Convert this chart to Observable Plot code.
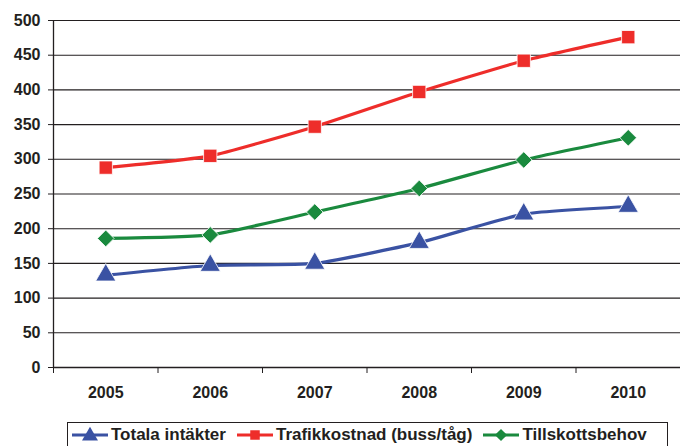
<!DOCTYPE html>
<html><head><meta charset="utf-8">
<script src="https://cdn.jsdelivr.net/npm/d3@7"></script>
<script src="https://cdn.jsdelivr.net/npm/@observablehq/plot@0.6"></script>
<style>
body{margin:0;background:#fff;font-family:"Liberation Sans",Arial,sans-serif;}
#chart{width:680px;height:446px;position:relative;overflow:hidden;}
.legend{position:absolute;left:67px;top:422px;width:601px;height:30px;border:1px solid #231f20;box-sizing:border-box;display:flex;align-items:flex-start;padding-left:4px;padding-top:2px;font-weight:bold;font-size:17px;color:#231f20;white-space:nowrap;}
.legend .it{display:flex;align-items:center;margin-right:11px;}
.legend svg{margin-right:3px;}
</style></head>
<body><div id="chart"></div>
<script>
const years = [2005, 2006, 2007, 2008, 2009, 2010];
const seriesNames = ["Totala intäkter", "Trafikkostnad (buss/tåg)", "Tillskottsbehov"];
const totalaIntakter = [133, 147, 150, 180, 221, 232];
const trafikkostnad = [288, 305, 347, 397, 442, 476];
const tillskottsbehov = [186, 191, 224, 258, 299, 331];
const colors = ["#3a52a3", "#ee2d2a", "#1a8a3e"];
const symbols = ["triangle", "square", "diamond2"];
const yTicks = [0, 50, 100, 150, 200, 250, 300, 350, 400, 450, 500];

const valuesList = [totalaIntakter, trafikkostnad, tillskottsbehov];
const data = [];
seriesNames.forEach((s, i) => years.forEach((y, j) => data.push({series: s, year: y, value: valuesList[i][j]})));
const bounds = years.map(y => y - 0.5).concat([years[years.length - 1] + 0.5]);

const plot = Plot.plot({
  width: 680, height: 422,
  marginTop: 20, marginBottom: 55, marginLeft: 53, marginRight: 0,
  x: {type: "linear", domain: [bounds[0], bounds[bounds.length - 1]]},
  y: {domain: [0, 500]},
  color: {domain: seriesNames, range: colors},
  symbol: {domain: seriesNames, range: symbols},
  style: {fontFamily: "Liberation Sans, Arial, sans-serif", fontWeight: "bold", fontSize: "16px", color: "#231f20"},
  marks: [
    Plot.gridY(yTicks, {stroke: "#231f20", strokeOpacity: 1, strokeWidth: 1.1}),
    Plot.axisY({ticks: yTicks, tickSize: 5, tickPadding: 8, label: null, fontSize: 16, fontWeight: "bold"}),
    Plot.axisX({ticks: bounds, tickSize: 6, tickFormat: () => "", label: null}),
    Plot.axisX({ticks: years, tickSize: 0, tickPadding: 19, tickFormat: d => String(d), label: null, fontSize: 16, fontWeight: "bold"}),
    Plot.ruleX([bounds[0]], {stroke: "#231f20", strokeWidth: 1.3}),
    Plot.ruleY([0], {stroke: "#231f20", strokeWidth: 1.3}),
    Plot.line(data, {x: "year", y: "value", z: "series", stroke: "series", strokeWidth: 3.2, curve: "cardinal", tension: 0.5}),
    Plot.dot(data, {x: "year", y: "value", symbol: "series", fill: "series", stroke: "#fff", strokeWidth: 0.8, r: 7.5})
  ]
});
const chart = document.getElementById("chart");
chart.appendChild(plot);

const legend = document.createElement("div");
legend.className = "legend";
const symPath = {triangle: d3.symbol(d3.symbolTriangle, 110)(), square: d3.symbol(d3.symbolSquare, 90)(), diamond2: d3.symbol(d3.symbolDiamond2, 95)()};
seriesNames.forEach((s, i) => {
  const it = document.createElement("div");
  it.className = "it";
  it.innerHTML = `<svg width="36" height="18" viewBox="0 0 36 18"><line x1="0" x2="36" y1="9" y2="9" stroke="${colors[i]}" stroke-width="3.2"/><path transform="translate(18,${symbols[i]==="triangle"?10:9})" d="${symPath[symbols[i]]}" fill="${colors[i]}"/></svg><span>${s}</span>`;
  legend.appendChild(it);
});
chart.appendChild(legend);
</script></body></html>
